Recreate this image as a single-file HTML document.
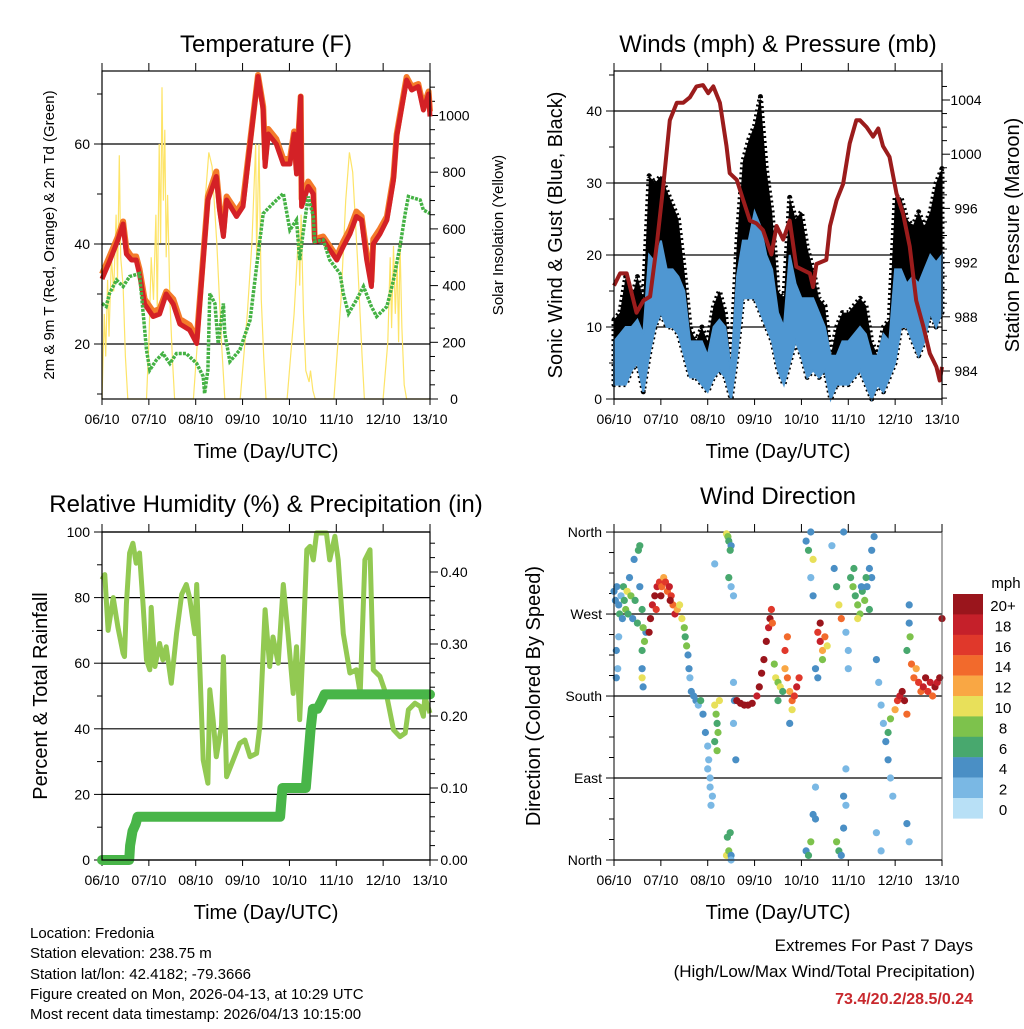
<!DOCTYPE html>
<html><head><meta charset="utf-8"><style>
body{margin:0;background:#fff}
svg text{font-family:"Liberation Sans",sans-serif;fill:#000}
</style></head><body>
<svg id="s" width="1024" height="1024" viewBox="0 0 1024 1024" xmlns="http://www.w3.org/2000/svg"></svg>
<script>
// ---------- DATA ----------
const dayLabels=["06/10","07/10","08/10","09/10","10/10","11/10","12/10","13/10"];
const tempT=[0,0.16,0.34,0.45,0.52,0.63,0.73,0.80,0.91,1.09,1.23,1.37,1.52,1.66,1.87,2.02,2.16,2.26,2.44,2.51,2.59,2.66,2.87,3.01,3.16,3.33,3.44,3.48,3.55,3.72,3.87,4.01,4.10,4.15,4.24,4.26,4.40,4.51,4.54,4.72,5.01,5.15,5.29,5.43,5.54,5.65,5.75,5.79,5.93,6.08,6.22,6.29,6.40,6.50,6.61,6.75,6.86,6.97,7.0];
const temp2m=[33,36.5,40.8,44,38,36.8,36.8,34,28,25.5,26,30,28,24,22.8,20.1,36.8,48.8,53.5,46.8,41.5,48.8,45.5,47.5,60,73.5,66.8,55.5,62,60,56,56,62,54,69.5,47.5,51.5,50,40.5,40.8,36.8,39.5,42,45.5,44.8,36.8,31.5,40,42,44.8,52.8,61.5,67.5,72.8,70.8,71.5,66.8,70,65.5];
const temp9m=[34,37.5,41.5,44.5,39,37.5,37.5,35,29,26.5,27,30.5,29,25,23.8,21,37.5,49.5,54.5,47.5,42.5,49.5,46.5,48.5,60.5,73.8,67.5,57,63,61,57,57,62.5,55,69.5,49,52.5,51,41,41.5,37.5,40.5,43,46.5,45.5,38,32.5,41,43,45.5,53.5,62,68,73.4,71.5,72,67.5,70.5,66.5];
const dewT=[0,0.09,0.16,0.31,0.45,0.59,0.80,0.88,0.95,1.02,1.16,1.30,1.45,1.59,1.80,2.02,2.16,2.19,2.26,2.30,2.41,2.48,2.59,2.62,2.73,2.94,3.16,3.30,3.44,3.65,3.87,4.01,4.15,4.22,4.29,4.40,4.51,4.54,4.72,4.86,5.08,5.15,5.26,5.43,5.58,5.75,5.86,6.08,6.22,6.36,6.47,6.54,6.79,6.86,7.0];
const dewVal=[28.1,27.5,30.1,32.8,31.5,33.5,34.1,26.1,18.8,14.8,16.8,18.1,16.1,18.1,18.1,16.1,13.5,10.1,14.8,30.1,28.1,20.1,28.1,22.1,16.5,18.8,24.8,35.5,46.1,48.1,50.1,42.8,44.8,36.8,42.1,49.5,45.5,40.5,40.8,36.8,34.1,30.1,26.1,28.8,31.5,27.5,25.5,27.5,32.8,39.5,46.1,49.5,48.8,46.8,46.1];
const solarT=[0,0.05,0.08,0.12,0.15,0.2,0.25,0.3,0.33,0.37,0.4,0.45,0.5,0.55,0.95,1.0,1.05,1.1,1.15,1.18,1.22,1.25,1.28,1.31,1.34,1.37,1.4,1.45,1.5,1.55,1.95,2.1,2.2,2.28,2.35,2.45,2.55,2.62,2.95,3.1,3.2,3.28,3.3,3.35,3.4,3.45,3.5,3.95,4.1,4.2,4.22,4.25,4.3,4.35,4.42,4.45,4.5,4.55,4.95,5.1,5.2,5.28,5.35,5.45,5.55,5.6,6.0,6.1,6.15,6.18,6.22,6.26,6.3,6.33,6.36,6.4,6.45,6.5,7.0];
const solarVal=[0,300,150,420,220,500,380,650,420,860,500,400,150,0,0,200,500,350,650,300,900,550,1100,700,950,500,720,350,150,0,0,350,700,870,820,550,200,0,0,300,550,900,500,900,350,150,0,0,300,600,400,650,300,100,60,100,30,0,0,350,700,870,800,500,150,0,0,200,500,250,540,300,480,200,550,250,50,0,0];
const windT=[0,0.125,0.25,0.375,0.5,0.625,0.75,0.875,1,1.125,1.25,1.375,1.5,1.625,1.75,1.875,2,2.125,2.25,2.375,2.5,2.625,2.75,2.875,3,3.125,3.25,3.375,3.5,3.625,3.75,3.875,4,4.125,4.25,4.375,4.5,4.625,4.75,4.875,5,5.125,5.25,5.375,5.5,5.625,5.75,5.875,6,6.125,6.25,6.375,6.5,6.625,6.75,6.875,7];
const windLow=[2,2,2,4,5,1,6,10,12,10,10,9,6,3,3,2,1,3,4,3,0,6,14,14,14,12,10,8,4,2,5,8,6,3,4,3,4,0,2,2,2,3,4,2,0,2,1,3,5,10,10,8,6,8,12,10,12];
const windHigh=[8,9,10,10,11,9,20,19,22,18,18,17,15,8,8,8,6,10,11,10,4,17,22,22,26,24,20,18,12,10,20,16,14,14,14,12,10,6,6,8,8,9,10,9,6,6,9,8,18,18,16,17,16,18,20,19,20];
const gustHigh=[11,12,17,14,17,14,31,30,31,29,27,25,18,10,8,10,8,13,15,12,5,22,33,36,38,42,32,26,15,14,28,25,26,21,18,14,13,6,10,12,12,13,14,13,8,6,10,11,28,28,25,24,26,24,26,30,32];
const presT=[0,0.13,0.27,0.48,0.63,0.77,0.91,1.05,1.19,1.34,1.48,1.62,1.76,1.90,2.01,2.12,2.26,2.40,2.47,2.62,2.76,2.90,3.04,3.18,3.36,3.47,3.61,3.75,3.89,4.18,4.25,4.32,4.53,4.61,4.75,4.89,5.03,5.17,5.25,5.39,5.53,5.64,5.74,5.88,6.03,6.17,6.31,6.45,6.60,6.74,6.88,6.95,7.0];
const presVal=[990.3,991.2,991.2,988.3,989.2,989.5,993.2,997.6,1002.5,1003.8,1003.8,1004.2,1005,1005.1,1004.5,1005,1003.8,1000.6,998.6,998.1,996.6,995.1,994.9,994.4,992.6,994.7,993.7,995.1,991.7,991.2,990.2,991.9,992.2,994.7,996.6,997.8,1000.8,1002.5,1002.5,1002,1001.3,1001.9,1000.6,999.8,997.1,995.6,993.2,989.2,987.3,985.3,984.3,983.3,984.3];
const rhT=[0,0.06,0.13,0.24,0.34,0.45,0.48,0.52,0.59,0.66,0.73,0.80,0.88,0.95,1.02,1.05,1.13,1.23,1.30,1.37,1.48,1.59,1.70,1.80,1.87,1.98,2.02,2.09,2.16,2.26,2.30,2.37,2.44,2.55,2.59,2.66,2.80,2.94,3.05,3.16,3.30,3.37,3.48,3.58,3.65,3.76,3.87,3.97,4.08,4.15,4.22,4.29,4.37,4.44,4.51,4.58,4.79,4.86,4.97,5.04,5.15,5.29,5.43,5.51,5.61,5.72,5.79,5.93,6.08,6.22,6.36,6.47,6.54,6.68,6.79,6.86,6.89,7.0];
const rhVal=[85.5,87,70,80,71,63,62,78,93.6,96.6,90.5,93.6,77.3,61,58,77,59,66,61,65,53.9,69,81,84,80,69,84,58,30.5,23.4,51.9,42.8,31.5,41,62,25.4,30.5,35.6,36.6,31.5,32.5,41,76.3,59,68,60,84,69,50.8,65,42.8,65,94.6,95.6,91.5,99.7,99.7,91.5,98.7,91.5,69,57,58,50.8,91.5,94.6,58,56,49.8,39.7,37.6,38.7,45.8,47.8,46.8,43.8,49.8,44.8];
const prT=[0,0.58,0.6,0.65,0.72,0.76,3.8,3.85,4.35,4.4,4.45,4.5,4.6,4.68,4.75,7];
const prVal=[0,0,0.02,0.04,0.05,0.06,0.06,0.1,0.1,0.14,0.18,0.21,0.21,0.22,0.23,0.23];
const dirT=[0,0.03,0.06,0.1,0.12,0.15,0.18,0.2,0.22,0.25,0.28,0.3,0.33,0.36,0.4,0.43,0.45,0.5,0.55,0.6,0.52,0.55,0.05,0.08,0.05,0.1,0.6,0.62,0.6,0.65,0.68,0.62,0.6,
0.75,0.78,0.82,0.87,0.92,0.97,1.02,1.06,1.1,1.14,1.18,1.22,1.26,1.3,1.35,1.4,1.45,1.5,1.52,1.55,1.0,1.2,0.9,
1.58,1.6,1.62,1.65,1.7,1.75,1.8,1.85,1.9,1.95,2.0,2.02,2.05,2.1,2.0,2.07,2.05,
2.15,2.18,2.2,2.22,2.15,2.25,2.2,2.4,2.43,2.45,2.5,2.48,2.45,2.5,2.55,2.15,2.4,2.45,2.5,2.42,2.48,2.5,2.55,2.57,2.55,2.6,
2.62,2.7,2.78,2.86,2.95,3.05,3.1,3.15,3.2,3.25,3.3,3.33,3.36,3.38,
3.42,3.45,3.5,3.55,3.6,3.65,3.7,3.75,3.8,3.85,3.9,3.95,3.8,3.75,3.7,3.65,3.5,
4.1,4.15,4.2,4.25,4.2,4.25,4.1,4.15,4.2,4.25,4.3,4.3,
4.35,4.4,4.45,4.5,4.55,4.4,4.45,4.3,4.35,
4.65,4.7,4.75,4.8,4.85,4.9,4.95,5.0,5.0,4.95,4.9,4.75,4.8,4.85,4.9,4.95,
5.05,5.1,5.15,5.2,5.25,5.3,5.35,5.4,5.45,5.5,5.55,5.5,5.45,5.2,5.12,5.28,5.38,
5.6,5.65,5.7,5.75,5.8,5.85,5.9,5.95,5.85,5.9,5.6,5.7,
6.0,6.05,6.1,6.15,6.2,6.25,6.25,6.3,6.32,6.35,6.3,6.25,6.3,
6.4,6.45,6.5,6.55,6.6,6.65,6.7,6.75,6.8,6.85,6.9,6.95,7.0];
const dirDeg=[295,285,300,280,270,290,265,300,285,275,295,270,310,290,265,330,285,260,300,275,340,345,230,210,200,245,210,190,230,240,250,255,200,
250,265,280,290,300,305,300,310,305,295,300,290,280,270,275,280,265,255,245,235,290,285,275,
225,210,200,185,180,175,170,175,160,140,125,110,90,70,100,60,80,
170,160,150,140,130,175,120,358,355,350,345,340,310,300,290,325,5,10,5,25,30,0,195,175,150,110,
175,172,170,170,172,180,190,205,220,240,255,265,275,260,
215,200,195,190,185,210,200,185,175,180,190,200,165,150,245,230,175,
350,340,360,330,310,290,10,5,20,50,45,80,
250,240,230,245,235,260,220,210,200,
345,320,300,280,265,360,250,230,210,100,70,20,10,5,35,60,
310,300,290,280,270,295,285,300,320,340,355,310,275,265,320,300,310,
220,195,170,150,130,110,90,70,140,155,30,10,
165,175,180,185,175,160,230,260,245,215,280,40,20,
200,210,195,185,190,200,185,195,180,190,195,200,265];
const dirSpd=[4,4,5,4,6,3,4,7,6,8,10,7,5,8,4,5,6,7,4,6,6,7,4,3,4,3,4,4,6,9,5,8,10,
20,20,18,20,18,16,14,12,16,14,18,16,14,18,12,10,10,8,6,8,20,20,16,
4,4,3,4,4,4,3,7,4,4,3,3,2,2,2,2,3,
10,8,6,8,6,10,8,10,8,6,4,6,6,2,3,2,10,8,4,6,6,2,2,4,3,4,
20,20,20,20,20,18,20,20,20,20,18,20,16,14,
8,10,8,10,6,12,14,12,14,16,18,16,10,4,14,16,6,
4,6,4,10,2,4,4,6,8,4,4,2,
16,18,12,14,10,20,8,4,4,
2,4,6,10,14,4,2,2,2,3,4,8,6,4,4,2,
6,8,6,8,8,6,8,4,4,4,4,4,6,10,7,5,6,
4,2,2,3,4,4,3,2,6,8,2,2,
12,16,18,20,20,14,6,4,8,14,4,4,2,
14,12,16,14,18,20,16,18,14,20,18,20,20];
const cbLabels=["20+","18","16","14","12","10","8","6","4","2","0"];
const cbColors=["#9a151c","#c5202a","#e0382b","#f26a2c","#f9a744","#e8e05a","#7dc24c","#48a86e","#4a8fc5","#7ab8e4","#b8e0f6"];

// ---------- HELPERS ----------
const S=document.getElementById('s');const NS='http://www.w3.org/2000/svg';
function el(tag,attrs,parent,txt){const e=document.createElementNS(NS,tag);for(const k in attrs)e.setAttribute(k,attrs[k]);if(txt!==undefined)e.textContent=txt;(parent||S).appendChild(e);return e;}
function grp(name){const g=el('g',{});


return g;}
function txt(x,y,s,size,anchor,name,extra){const t=el('text',Object.assign({x:x,y:y,'font-size':size,'text-anchor':anchor||'start'},extra||{}),S,s);


return t;}
function pts(T,V,fx,fy){return T.map((t,i)=>fx(t).toFixed(1)+','+fy(V[i]).toFixed(1)).join(' ');}

function panel(x0,y0,w,h,name){
  const g=grp(name);
  // x ticks and labels
  for(let d=0;d<=7;d++){const x=x0+d*w/7;
    el('line',{x1:x,y1:y0,x2:x,y2:y0-8,stroke:'#000','stroke-width':1},g);
    el('line',{x1:x,y1:y0+h,x2:x,y2:y0+h+6,stroke:'#000','stroke-width':1},g);
    const t=el('text',{x:x,y:y0+h+25,'font-size':14,'text-anchor':'middle'},g,dayLabels[d]);
    
    }
  return g;
}
function yAxis(g,x0,y0,w,h,fy,major,minor,lo,hi,labFn,side,grid){
  for(let v=lo;v<=hi+1e-9;v+=minor){const y=fy(v);if(y<y0-0.5||y>y0+h+0.5)continue;
    const isMaj=Math.abs(Math.round(v/major)*major-v)<1e-6;
    const len=isMaj?8:5;
    if(side==='l')el('line',{x1:x0,y1:y,x2:x0-len,y2:y,stroke:'#000'},g);
    else el('line',{x1:x0+w,y1:y,x2:x0+w+len,y2:y,stroke:'#000'},g);
    if(isMaj){
      if(grid)el('line',{x1:x0,y1:y,x2:x0+w,y2:y,stroke:'#000','stroke-width':1.2},g);
      const t=side==='l'?el('text',{x:x0-12,y:y+5,'font-size':14,'text-anchor':'end'},g,labFn(v)):el('text',{x:x0+w+24,y:y+5,'font-size':14,'text-anchor':'middle'},g,labFn(v));
      
      }
  }
}
function frame(g,x0,y0,w,h){el('rect',{x:x0,y:y0,width:w,height:h,fill:'none',stroke:'#000','stroke-width':1.2},g);}

// ---------- PANEL 1: Temperature ----------
(function(){const x0=102,y0=71,w=328,h=328;
 const fx=t=>x0+t*w/7, fy=v=>399-(v-9)*5, fs=v=>399-v*0.2835;
 const g=panel(x0,y0,w,h,'temperature-panel');
 yAxis(g,x0,y0,w,h,fy,20,10,10,70,v=>String(v),'l',true);
 yAxis(g,x0,y0,w,h,fs,200,50,0,1100,v=>String(v),'r',false);
 const s=el('polyline',{points:pts(solarT,solarVal,fx,fs),fill:'none',stroke:'#fde468','stroke-width':1.2},g);
 
 
 const o=el('polyline',{points:pts(tempT,temp9m,fx,fy),fill:'none',stroke:'#f47b2a','stroke-width':6,'stroke-linejoin':'round'},g);
 
 
 const r=el('polyline',{points:pts(tempT,temp2m,fx,fy),fill:'none',stroke:'#d42126','stroke-width':5,'stroke-linejoin':'round'},g);
 
 
 const d=el('polyline',{points:pts(dewT,dewVal,fx,fy),fill:'none',stroke:'#44b244','stroke-width':3.5,'stroke-dasharray':'3 1.2'},g);
 
 
 frame(g,x0,y0,w,h);
})();
txt(266,52,'Temperature (F)',24,'middle','temperature-title');
txt(266,458,'Time (Day/UTC)',20,'middle','x-axis-title');
txt(0,0,'2m & 9m T (Red, Orange) & 2m Td (Green)',15,'middle','temp-y-axis-title',{transform:'translate(54,235) rotate(-90)'});
txt(0,0,'Solar Insolation (Yellow)',15,'middle','solar-y-axis-title',{transform:'translate(503,235) rotate(-90)'});

// ---------- PANEL 2: Winds ----------
(function(){const x0=614,y0=71,w=328,h=328;
 const fx=t=>x0+t*w/7, fy=v=>399-v*7.2, fp=p=>371-(p-984)*13.55;
 const g=panel(x0,y0,w,h,'winds-panel');
 yAxis(g,x0,y0,w,h,fy,10,5,0,45,v=>String(v),'l',true);
 yAxis(g,x0,y0,w,h,fp,4,1,982,1005,v=>String(v),'r',false);
 const gp=windT.map((t,i)=>fx(t).toFixed(1)+','+fy(gustHigh[i]).toFixed(1)).concat(windT.slice().reverse().map((t,j)=>{const i=windT.length-1-j;return fx(t).toFixed(1)+','+fy(windLow[i]).toFixed(1);})).join(' ');
 const gb=el('polygon',{points:gp,fill:'#000',stroke:'#000','stroke-width':5,'stroke-linejoin':'round','stroke-dasharray':'2 3'},g);
 
 
 const wp=windT.map((t,i)=>fx(t).toFixed(1)+','+fy(windHigh[i]).toFixed(1)).concat(windT.slice().reverse().map((t,j)=>{const i=windT.length-1-j;return fx(t).toFixed(1)+','+fy(windLow[i]).toFixed(1);})).join(' ');
 const wb=el('polygon',{points:wp,fill:'#4f97d2',stroke:'#4f97d2','stroke-width':2},g);
 
 
 const p=el('polyline',{points:pts(presT,presVal,fx,fp),fill:'none',stroke:'#9b1c1c','stroke-width':4,'stroke-linejoin':'round'},g);
 
 
 frame(g,x0,y0,w,h);
})();
txt(778,52,'Winds (mph) & Pressure (mb)',24,'middle','winds-title');
txt(778,458,'Time (Day/UTC)',20,'middle','x-axis-title');
txt(0,0,'Sonic Wind & Gust (Blue, Black)',20,'middle','wind-y-axis-title',{transform:'translate(562,235) rotate(-90)'});
txt(0,0,'Station Pressure (Maroon)',20,'middle','pressure-y-axis-title',{transform:'translate(1019,235) rotate(-90)'});

// ---------- PANEL 3: RH & Precip ----------
(function(){const x0=102,y0=532,w=328,h=328;
 const fx=t=>x0+t*w/7, fy=v=>860-v*3.28, fp=v=>860-v*720;
 const g=panel(x0,y0,w,h,'humidity-panel');
 yAxis(g,x0,y0,w,h,fy,20,10,0,100,v=>String(v),'l',true);
 yAxis(g,x0,y0,w,h,fp,0.1,0.02,0,0.46,v=>v.toFixed(2),'r',false);
 const r=el('polyline',{points:pts(rhT,rhVal,fx,fy),fill:'none',stroke:'#92c952','stroke-width':5,'stroke-linejoin':'round'},g);
 
 
 const p=el('polyline',{points:pts(prT,prVal,fx,fp),fill:'none',stroke:'#48b548','stroke-width':10,'stroke-linejoin':'round','stroke-linecap':'round'},g);
 
 
 frame(g,x0,y0,w,h);
})();
txt(266,512,'Relative Humidity (%) & Precipitation (in)',24,'middle','humidity-title');
txt(266,919,'Time (Day/UTC)',20,'middle','x-axis-title');
txt(0,0,'Percent & Total Rainfall',20,'middle','humidity-y-axis-title',{transform:'translate(47,696) rotate(-90)'});

// ---------- PANEL 4: Wind direction ----------
(function(){const x0=614,y0=532,w=328,h=328;
 const fx=t=>x0+t*w/7, fy=d=>860-d*0.911;
 const g=panel(x0,y0,w,h,'wind-direction-panel');
 const names=['North','East','South','West','North'];
 yAxis(g,x0,y0,w,h,fy,90,22.5,0,360,v=>names[Math.round(v/90)],'l',true);
 for(let i=0;i<dirT.length;i++){
   const bin=Math.min(10,Math.floor(dirSpd[i]/2));
   const c=el('circle',{cx:fx(dirT[i]).toFixed(1),cy:fy(dirDeg[i]).toFixed(1),r:3.6,fill:cbColors[10-bin]},g);
   
   
 }
 el('line',{x1:x0,y1:y0,x2:x0,y2:y0+h,stroke:'#000'},g);
 el('line',{x1:x0+w,y1:y0,x2:x0+w,y2:y0+h,stroke:'#555'},g);
 el('line',{x1:x0,y1:y0+h,x2:x0+w,y2:y0+h,stroke:'#000'},g);
 // colorbar
 const cb=grp('speed-colorbar');
 for(let i=0;i<11;i++){
   el('rect',{x:953,y:594+i*20.4,width:30,height:20.6,fill:cbColors[i]},cb);
   const t=el('text',{x:1003,y:611+i*20.4,'font-size':15,'text-anchor':'middle'},cb,cbLabels[i]);
   
   
 }
 const m=el('text',{x:1006,y:588,'font-size':15,'text-anchor':'middle'},cb,'mph');
 
 
})();
txt(778,504,'Wind Direction',24,'middle','wind-direction-title');
txt(778,919,'Time (Day/UTC)',20,'middle','x-axis-title');
txt(0,0,'Direction (Colored By Speed)',20,'middle','direction-y-axis-title',{transform:'translate(540,696) rotate(-90)'});

// ---------- Footer ----------
txt(30,938,'Location: Fredonia',15,'start','location-text');
txt(30,958,'Station elevation: 238.75 m',15,'start','elevation-text');
txt(30,979,'Station lat/lon: 42.4182; -79.3666',15,'start','latlon-text');
txt(30,999,'Figure created on Mon, 2026-04-13, at 10:29 UTC',15,'start','created-text');
txt(30,1019,'Most recent data timestamp: 2026/04/13 10:15:00',15,'start','timestamp-text');
txt(973,951,'Extremes For Past 7 Days',17,'end','extremes-title');
txt(975,977,'(High/Low/Max Wind/Total Precipitation)',17,'end','extremes-subtitle');
const ex=txt(973,1004,'73.4/20.2/28.5/0.24',16,'end','extremes-values',{'font-weight':'bold'});
ex.setAttribute('style','fill:#c8282d');
</script>
</body></html>
